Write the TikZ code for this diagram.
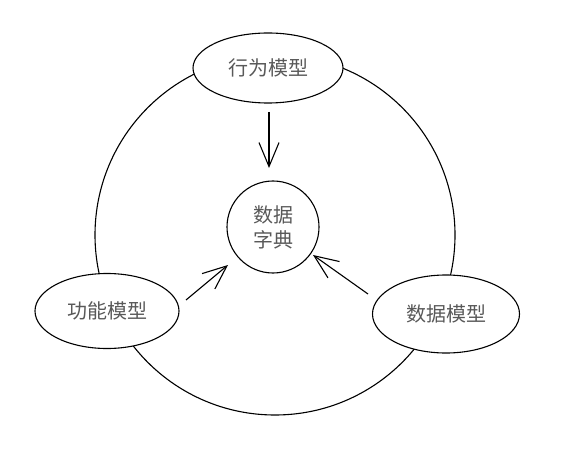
\documentclass[tikz,border=0pt]{standalone}
\usepackage{fontspec}
\newfontfamily\cjk{Noto Sans CJK SC}
\usetikzlibrary{arrows.meta,shapes.geometric}
\begin{document}
\begin{tikzpicture}[x=1pt,y=-1pt,
  line width=1.1pt,
  txt/.style={font=\cjk\fontsize{20}{25}\selectfont, text=black!65},
  oval/.style={draw, ellipse, fill=white, inner sep=0pt, txt},
  arr/.style={-{Straight Barb[length=24pt,width=20pt]}}]
\useasboundingbox (0,0) rectangle (580,470);
\node[circle, draw, minimum size=360pt] (big) at (275,235) {};
\node[oval, minimum width=150pt, minimum height=70pt] (top) at (268,68) {行为模型};
\node[oval, minimum width=144pt, minimum height=75pt] (left) at (107,311) {功能模型};
\node[oval, minimum width=147pt, minimum height=78pt] (right) at (446,314) {数据模型};
\node[circle, draw, minimum size=92pt, inner sep=0pt, txt, align=center] (dict) at (273,227) {数据\\字典};
\coordinate (t1) at (269,112);
\coordinate (t2) at (269,168);
\coordinate (l1) at (186,300);
\coordinate (l2) at (228,265);
\coordinate (r1) at (368,294);
\coordinate (r2) at (313,255);
\draw[arr] (t1) -- (t2);
\draw[arr] (l1) -- (l2);
\draw[arr] (r1) -- (r2);
\end{tikzpicture}
\end{document}
